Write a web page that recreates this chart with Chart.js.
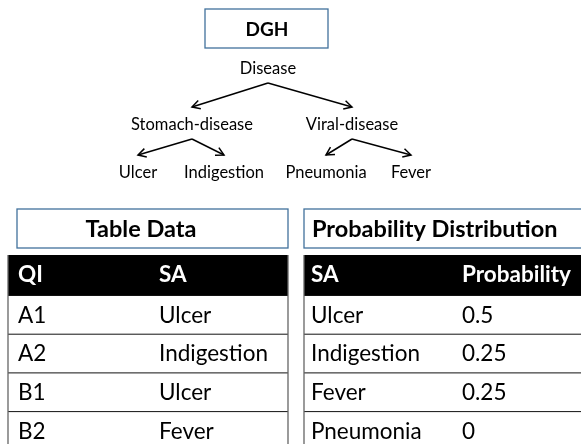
<!DOCTYPE html>
<html>
<head>
<meta charset="utf-8">
<script src="https://cdn.jsdelivr.net/npm/chart.js@4/dist/chart.umd.min.js"></script>
<style>
  html, body { margin: 0; padding: 0; background: #fff; }
  #c { display: block; }
</style>
</head>
<body>
<canvas id="c" width="581" height="444"></canvas>
<script>
/* ---- data ---- */
const treeTitle = 'DGH';
const treeNodes = ['Disease', 'Stomach-disease', 'Viral-disease', 'Ulcer', 'Indigestion', 'Pneumonia', 'Fever'];
const treeParents = [null, 0, 0, 1, 1, 2, 2];

const tableTitle = 'Table Data';
const tableHeader = ['QI', 'SA'];
const tableQI = ['A1', 'A2', 'B1', 'B2'];
const tableSA = ['Ulcer', 'Indigestion', 'Ulcer', 'Fever'];

const distTitle = 'Probability Distribution';
const distHeader = ['SA', 'Probability'];
const distSA = ['Ulcer', 'Indigestion', 'Fever', 'Pneumonia'];
const distProb = [0.5, 0.25, 0.25, 0];

/* ---- layout (diagram units = px) ---- */
const FONT = 'Lato, "Open Sans", sans-serif';
const BOX_BLUE = '#41719c';
const nodeX = [268, 192, 352, 138, 224, 326, 411];
const nodeY = [69, 125, 125, 173, 173, 173, 173];
const rowTop = 255, headH = 40, rowH = 38.7;
const tables = [
  { title: tableTitle, head: tableHeader, cols: [tableQI, tableSA],
    box: [17, 209, 288, 248], titleX: 141, titleAlign: 'center', left: 8, right: 288, colX: [18, 159] },
  { title: distTitle, head: distHeader, cols: [distSA, distProb.map(String)],
    box: [304, 209, 600, 248], titleX: 312, titleAlign: 'left', left: 304, right: 600, colX: [311, 462] }
];

// one line dataset per tree edge
const edgeSets = treeParents.map((p, i) => p === null ? null : {
  type: 'line',
  data: [{ x: nodeX[p], y: nodeY[p] + 14 }, { x: nodeX[i], y: nodeY[i] - 18 }],
  borderColor: '#000',
  borderWidth: 1.5,
  pointRadius: 0,
  showLine: true,
  fill: false
}).filter(Boolean);

const diagramPlugin = {
  id: 'diagram',
  afterDatasetsDraw(chart) {
    const { ctx, scales: { x, y } } = chart;
    const X = v => x.getPixelForValue(v), Y = v => y.getPixelForValue(v);
    ctx.save();

    // arrowheads on the edges
    chart.data.datasets.forEach((ds, di) => {
      const pts = chart.getDatasetMeta(di).data;
      const a = pts[0], b = pts[1];
      const ang = Math.atan2(b.y - a.y, b.x - a.x), L = 9, spread = 0.5;
      ctx.strokeStyle = '#000'; ctx.lineWidth = 1.5;
      ctx.beginPath();
      ctx.moveTo(b.x - L * Math.cos(ang - spread), b.y - L * Math.sin(ang - spread));
      ctx.lineTo(b.x, b.y);
      ctx.lineTo(b.x - L * Math.cos(ang + spread), b.y - L * Math.sin(ang + spread));
      ctx.stroke();
    });

    // DGH title box
    ctx.strokeStyle = BOX_BLUE; ctx.lineWidth = 1.3;
    ctx.strokeRect(X(205), Y(9), X(328) - X(205), Y(48) - Y(9));
    ctx.fillStyle = '#000';
    ctx.textAlign = 'center'; ctx.textBaseline = 'middle';
    ctx.font = 'bold 19px ' + FONT;
    ctx.fillText(treeTitle, X(267), Y(30));

    // tree labels
    ctx.font = '16.5px ' + FONT;
    treeNodes.forEach((n, i) => ctx.fillText(n, X(nodeX[i]), Y(nodeY[i])));

    // tables
    tables.forEach(t => {
      const [bx0, by0, bx1, by1] = t.box;
      ctx.strokeStyle = BOX_BLUE; ctx.lineWidth = 1.3;
      ctx.strokeRect(X(bx0), Y(by0), X(bx1) - X(bx0), Y(by1) - Y(by0));
      ctx.fillStyle = '#000';
      ctx.font = 'bold 23.5px ' + FONT;
      ctx.textAlign = t.titleAlign;
      ctx.fillText(t.title, X(t.titleX), Y((by0 + by1) / 2 + 1));

      // header
      ctx.fillStyle = '#000';
      ctx.fillRect(X(t.left), Y(rowTop), X(t.right) - X(t.left), Y(rowTop + headH) - Y(rowTop));
      ctx.fillStyle = '#fff';
      ctx.textAlign = 'left';
      ctx.font = 'bold 22.5px ' + FONT;
      t.head.forEach((h, c) => ctx.fillText(h, X(t.colX[c]), Y(rowTop + headH / 2)));

      // rows
      ctx.font = '22.5px ' + FONT;
      const n = t.cols[0].length;
      for (let r = 0; r < n; r++) {
        const top = rowTop + headH + r * rowH;
        ctx.strokeStyle = '#111'; ctx.lineWidth = 1;
        ctx.beginPath();
        ctx.moveTo(X(t.left), Y(top) + 0.5); ctx.lineTo(X(t.right), Y(top) + 0.5);
        ctx.stroke();
        ctx.fillStyle = '#000';
        t.cols.forEach((col, c) => ctx.fillText(col[r], X(t.colX[c]), Y(top + rowH / 2 + 1)));
      }
      // side borders
      ctx.strokeStyle = '#666'; ctx.lineWidth = 1.3;
      ctx.beginPath();
      ctx.moveTo(X(t.left), Y(rowTop)); ctx.lineTo(X(t.left), Y(444));
      ctx.moveTo(X(t.right), Y(rowTop)); ctx.lineTo(X(t.right), Y(444));
      ctx.stroke();
    });
    ctx.restore();
  }
};

new Chart(document.getElementById('c').getContext('2d'), {
  type: 'scatter',
  data: { datasets: edgeSets },
  options: {
    responsive: false,
    animation: false,
    layout: { padding: 0 },
    plugins: { legend: { display: false }, tooltip: { enabled: false } },
    scales: {
      x: { type: 'linear', min: 0, max: 581, display: false },
      y: { type: 'linear', min: 0, max: 444, reverse: true, display: false }
    }
  },
  plugins: [diagramPlugin]
});
</script>
</body>
</html>
